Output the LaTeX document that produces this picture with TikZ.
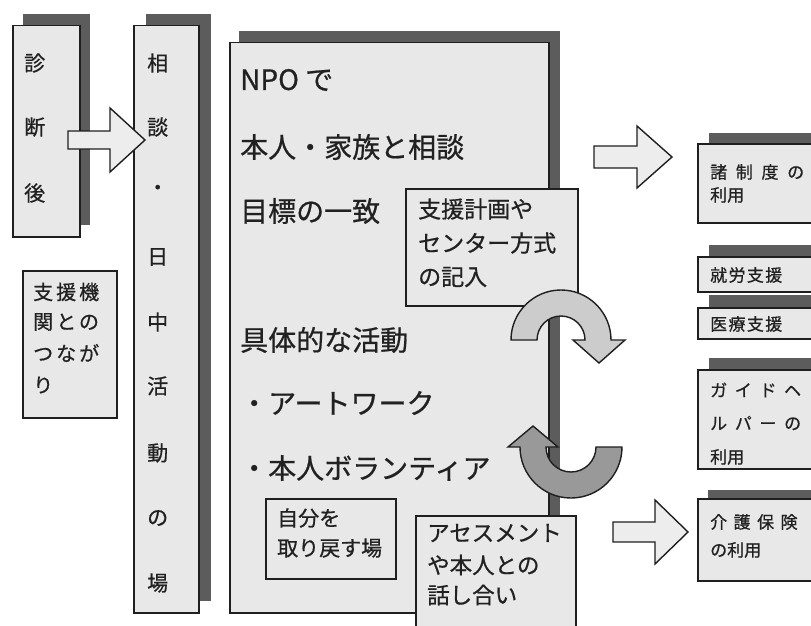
\documentclass[tikz,border=0pt]{standalone}
\usepackage{fontspec}
\setmainfont{Noto Sans CJK JP}[FakeBold=0.7]
\usetikzlibrary{calc}
\definecolor{boxfill}{gray}{0.91}
\definecolor{shadowcol}{gray}{0.36}
\definecolor{linecol}{gray}{0.12}
\definecolor{txtcol}{gray}{0.13}
\definecolor{arrowfill}{gray}{0.93}
\definecolor{ringlight}{gray}{0.80}
\definecolor{ringdark}{gray}{0.60}
\tikzset{
  box/.style={draw=linecol, line width=1.5pt, fill=boxfill, inner sep=0pt, anchor=north west},
  shadowbox/.style={fill=shadowcol, draw=none, inner sep=0pt, anchor=north west},
  txt/.style={anchor=west, inner sep=0pt, text=txtcol},
  blockarrow/.style={draw=linecol, line width=1.4pt, fill=arrowfill, line join=miter},
  ring/.style={draw=linecol, line width=1.4pt, line join=miter},
}
\newcommand{\fs}[1]{\fontsize{#1}{#1}\selectfont}
\begin{document}
\begin{tikzpicture}[x=1pt,y=-1pt]
\useasboundingbox (0,0) rectangle (811,626);
\fill[white] (0,0) rectangle (811,626);

% --- 診断後 ---
\node[shadowbox, minimum width=67pt, minimum height=211pt] (diagsh) at (23,14) {};
\node[box, minimum width=67pt, minimum height=211pt] (diag) at (12,25) {};
\node[txt, font=\fs{21}] (d1) at (24,63) {診};
\node[txt, font=\fs{21}] (d2) at (24,127) {断};
\node[txt, font=\fs{21}] (d3) at (24,193) {後};

% --- 相談・日中活動の場 ---
\node[shadowbox, minimum width=65pt, minimum height=587pt] (sodansh) at (146,14) {};
\node[box, minimum width=65pt, minimum height=587pt] (sodan) at (133,25) {};
\node[txt, font=\fs{21}] (s1) at (147,63) {相};
\node[txt, font=\fs{21}] (s2) at (147,127) {談};
\node[txt, font=\fs{21}] (s3) at (147,190) {・};
\node[txt, font=\fs{21}] (s4) at (147,257) {日};
\node[txt, font=\fs{21}] (s5) at (147,322) {中};
\node[txt, font=\fs{21}] (s6) at (147,386) {活};
\node[txt, font=\fs{21}] (s7) at (147,453) {動};
\node[txt, font=\fs{21}] (s8) at (147,518) {の};
\node[txt, font=\fs{21}] (s9) at (147,583) {場};

% --- 支援機関とのつながり ---
\node[box, minimum width=94pt, minimum height=147pt] (kikan) at (22,270) {};
\node[txt, font=\fs{20}\addfontfeatures{LetterSpace=15}] (k1) at (33,292) {支援機};
\node[txt, font=\fs{20}\addfontfeatures{LetterSpace=15}] (k2) at (33,322) {関との};
\node[txt, font=\fs{20}\addfontfeatures{LetterSpace=15}] (k3) at (33,353) {つなが};
\node[txt, font=\fs{20}\addfontfeatures{LetterSpace=15}] (k4) at (33,385) {り};

% --- NPO box ---
\node[shadowbox, minimum width=321pt, minimum height=569pt] (nposh) at (239,31) {};
\node[box, minimum width=319pt, minimum height=570pt] (npo) at (229,42) {};
\node[txt, font=\fs{28}] (n1) at (240,80) {NPO で};
\node[txt, font=\fs{28}] (n2) at (240,147) {本人・家族と相談};
\node[txt, font=\fs{28}] (n3) at (240,211) {目標の一致};
\node[txt, font=\fs{28}] (n4) at (240,340) {具体的な活動};
\node[txt, font=\fs{28}] (n5) at (240,403) {・アートワーク};
\node[txt, font=\fs{28}] (n6) at (240,468) {・本人ボランティア};

% --- inner boxes ---
\node[box, minimum width=172pt, minimum height=117pt] (plan) at (405,188) {};
\node[txt, font=\fs{23}] (p1) at (418,209) {支援計画や};
\node[txt, font=\fs{23}] (p2) at (418,243) {センター方式};
\node[txt, font=\fs{23}] (p3) at (418,277) {の記入};

\node[box, minimum width=130pt, minimum height=80pt] (jibun) at (265,498) {};
\node[txt, font=\fs{21}] (j1) at (277,518) {自分を};
\node[txt, font=\fs{21}] (j2) at (277,548) {取り戻す場};

\node[box, minimum width=160pt, minimum height=130pt] (assess) at (415,515) {};
\node[txt, font=\fs{22.5}] (a1) at (427,533) {アセスメント};
\node[txt, font=\fs{22.5}] (a2) at (427,565) {や本人との};
\node[txt, font=\fs{22.5}] (a3) at (427,595) {話し合い};

% --- curved arrows ---
\coordinate (c1) at (561,340);
\draw[ring, fill=ringlight] ($(c1)+(-50,0)$) arc[start angle=180, end angle=360, radius=50]
  -- ($(c1)+(64,0)$) -- ($(c1)+(38,23)$) -- ($(c1)+(12,0)$) -- ($(c1)+(24,0)$)
  arc[start angle=360, end angle=180, radius=24] -- cycle;
\coordinate (c2) at (571,447);
\draw[ring, fill=ringdark] ($(c2)+(51,0)$) arc[start angle=0, end angle=180, radius=51]
  -- ($(c2)+(-63,0)$) -- ($(c2)+(-38,-21)$) -- ($(c2)+(-13,0)$) -- ($(c2)+(-25,0)$)
  arc[start angle=180, end angle=0, radius=25] -- cycle;

% --- right boxes ---
\node[shadowbox, minimum width=140pt, minimum height=79pt] (seidosh) at (709,133) {};
\node[box, minimum width=140pt, minimum height=79pt] (seido) at (697,143) {};
\node[txt, font=\fs{17}\addfontfeatures{LetterSpace=51}] (r1) at (710,172) {諸制度の};
\node[txt, font=\fs{17}] (r2) at (710,195) {利用};

\node[shadowbox, minimum width=140pt, minimum height=35pt] (shurosh) at (709,245) {};
\node[box, minimum width=140pt, minimum height=35pt] (shuro) at (697,256) {};
\node[txt, font=\fs{17}\addfontfeatures{LetterSpace=8}] (r3) at (710,275) {就労支援};

\node[shadowbox, minimum width=140pt, minimum height=31pt] (iryosh) at (709,295) {};
\node[box, minimum width=140pt, minimum height=31pt] (iryo) at (697,307) {};
\node[txt, font=\fs{17}\addfontfeatures{LetterSpace=8}] (r4) at (710,324) {医療支援};

\node[shadowbox, minimum width=140pt, minimum height=99pt] (guidesh) at (709,358) {};
\node[box, minimum width=140pt, minimum height=99pt] (guide) at (697,369) {};
\node[txt, font=\fs{17}\addfontfeatures{LetterSpace=45}] (r5) at (710,390) {ガイドヘ};
\node[txt, font=\fs{17}\addfontfeatures{LetterSpace=45}] (r6) at (710,423) {ルパーの};
\node[txt, font=\fs{17}] (r7) at (710,457) {利用};

\node[shadowbox, minimum width=140pt, minimum height=82pt] (kaigosh) at (708,490) {};
\node[box, minimum width=140pt, minimum height=82pt] (kaigo) at (697,498) {};
\node[txt, font=\fs{17}\addfontfeatures{LetterSpace=38}] (r8) at (710,522) {介護保険};
\node[txt, font=\fs{17}] (r9) at (710,550) {の利用};

% --- straight block arrows ---
\coordinate (b1s) at (68,140); \coordinate (b1e) at (145,140);
\draw[blockarrow] ($(b1s)+(0,-9)$) -- ($(b1e)+(-35,-9)$) -- ($(b1e)+(-35,-32)$) -- (b1e)
  -- ($(b1e)+(-35,32)$) -- ($(b1e)+(-35,9)$) -- ($(b1s)+(0,9)$) -- cycle;
\coordinate (b2s) at (594,157); \coordinate (b2e) at (672,157);
\draw[blockarrow] ($(b2s)+(0,-11)$) -- ($(b2e)+(-35,-11)$) -- ($(b2e)+(-35,-31)$) -- (b2e)
  -- ($(b2e)+(-35,31)$) -- ($(b2e)+(-35,11)$) -- ($(b2s)+(0,11)$) -- cycle;
\coordinate (b3s) at (613,532); \coordinate (b3e) at (688,532);
\draw[blockarrow] ($(b3s)+(0,-10)$) -- ($(b3e)+(-33,-10)$) -- ($(b3e)+(-33,-32)$) -- (b3e)
  -- ($(b3e)+(-33,32)$) -- ($(b3e)+(-33,10)$) -- ($(b3s)+(0,10)$) -- cycle;
\end{tikzpicture}
\end{document}
